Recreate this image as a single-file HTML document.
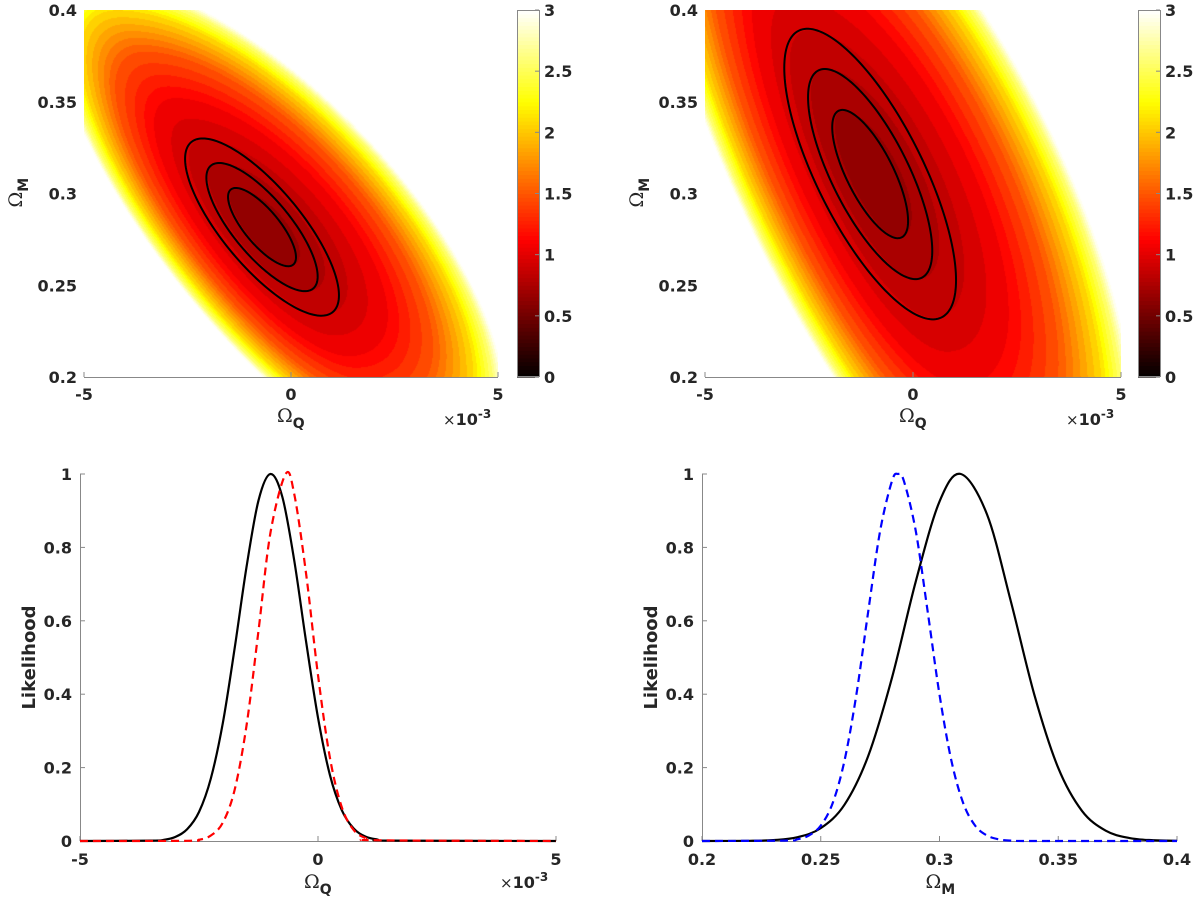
<!DOCTYPE html>
<html><head><meta charset="utf-8">
<style>
html,body{margin:0;padding:0;background:#fff;}
#wrap{position:relative;width:1200px;height:900px;overflow:hidden;background:#fff;}
canvas{position:absolute;}
svg{position:absolute;left:0;top:0;}
</style></head>
<body>
<div id="wrap">
<canvas id="mapTL"></canvas>
<canvas id="mapTR"></canvas>
<svg id="svg" width="1200" height="900" xmlns="http://www.w3.org/2000/svg"></svg>
</div>
<script>
// ---------- data ----------
const tlCenter = [-0.70, 0.2817];
const tlSigma = [0.541, 0.01406];
const tlRho = [-0.77];
const trCenter = [-1.03, 0.3106];
const trSigma = [0.601, 0.02305];
const trRho = [-0.73];
const contourChi2 = [2.30, 6.17, 11.8];
const colorD = [0, 1.5, 2.5, 3.4, 5, 6.8, 8.4, 9.2, 9.6];
const colorV = [0.62, 0.70, 0.80, 0.90, 1.10, 1.50, 2.10, 2.60, 3.00];
const tlSkew = [1.1, 0.78];
const trSkew = [1.14, 0.82];
const mapXTicks = [-5, 0, 5];
const mapYTicks = [0.2, 0.25, 0.3, 0.35, 0.4];
const mapYTickLabels = ['0.2', '0.25', '0.3', '0.35', '0.4'];
const cbTicks = [0, 0.5, 1, 1.5, 2, 2.5, 3];
const cbTickLabels = ['0', '0.5', '1', '1.5', '2', '2.5', '3'];

const blBlackX = [-5,-3.5,-3.25,-3.0,-2.75,-2.5,-2.25,-2.0,-1.75,-1.5,-1.25,-1.0,-0.75,-0.5,-0.25,0,0.25,0.5,0.75,1.0,1.25,1.5,5];
const blBlackY = [0,0.001,0.003,0.011,0.032,0.079,0.171,0.321,0.526,0.748,0.928,1.0,0.938,0.765,0.543,0.336,0.180,0.084,0.034,0.012,0.004,0.001,0];
const blRedX = [-5,-2.75,-2.5,-2.25,-2.0,-1.75,-1.5,-1.25,-1.0,-0.68,-0.5,-0.25,0,0.25,0.5,0.75,1.0,1.25,5];
const blRedY = [0,0.0005,0.0034,0.015,0.050,0.140,0.316,0.573,0.839,1.0,0.946,0.728,0.452,0.227,0.092,0.030,0.008,0.002,0];
const brBlackX = [0.2,0.22,0.23,0.24,0.25,0.26,0.27,0.28,0.29,0.30,0.309,0.32,0.33,0.34,0.35,0.36,0.37,0.38,0.39,0.40];
const brBlackY = [0,0.0005,0.0025,0.010,0.035,0.099,0.232,0.445,0.707,0.925,1.0,0.890,0.654,0.397,0.199,0.082,0.028,0.008,0.002,0.0004];
const brBlueX = [0.2,0.235,0.24,0.245,0.25,0.255,0.26,0.265,0.27,0.275,0.28,0.2825,0.285,0.29,0.295,0.30,0.305,0.31,0.315,0.32,0.325,0.33,0.34,0.4];
const brBlueY = [0,0.001,0.0044,0.015,0.042,0.103,0.219,0.399,0.626,0.845,0.981,1.0,0.981,0.845,0.626,0.399,0.219,0.103,0.042,0.015,0.0044,0.001,0,0];
const blXTicks = [-5, 0, 5];
const brXTicks = [0.2, 0.25, 0.3, 0.35, 0.4];
const brXTickLabels = ['0.2', '0.25', '0.3', '0.35', '0.4'];
const likeYTicks = [0, 0.2, 0.4, 0.6, 0.8, 1];
const likeYTickLabels = ['0', '0.2', '0.4', '0.6', '0.8', '1'];

// ---------- helpers ----------
const NS = 'http://www.w3.org/2000/svg';
const svg = document.getElementById('svg');
function mk(tag, attrs, parent) {
  const e = document.createElementNS(NS, tag);
  for (const k in attrs) e.setAttribute(k, attrs[k]);
  (parent || svg).appendChild(e);
  return e;
}
function lin(d0, d1, p0, p1) { return v => p0 + (v - d0) / (d1 - d0) * (p1 - p0); }
function inv(d0, d1, p0, p1) { return p => d0 + (p - p0) / (p1 - p0) * (d1 - d0); }
function hot(v) {
  const f = Math.max(0, Math.min(1, v / 3));
  const r = Math.min(1, f / 0.375), g = Math.max(0, Math.min(1, (f - 0.375) / 0.375)), b = Math.max(0, Math.min(1, (f - 0.75) / 0.25));
  return [Math.round(r * 255), Math.round(g * 255), Math.round(b * 255)];
}
function interp(xs, ys, x) {
  if (x <= xs[0]) return ys[0];
  for (let i = 1; i < xs.length; i++) if (x <= xs[i]) { const t = (x - xs[i-1]) / (xs[i] - xs[i-1]); return ys[i-1] + t * (ys[i] - ys[i-1]); }
  return ys[ys.length - 1];
}
const TXT = 'fill:#262626;font-family:"DejaVu Sans","Liberation Sans",sans-serif;font-weight:bold;font-size:16px;';
const OMEGA = 'fill:#262626;font-family:"DejaVu Serif","Liberation Serif",serif;font-size:19px;';
const SUB = 'font-family:DejaVu Sans,Liberation Sans,sans-serif;font-weight:bold;font-size:14px';

// ---------- maps ----------
function drawMap(id, name, L, R, T, B, center, sigma, rho, skew, cbL) {
  const W = R - L, H = B - T;
  const X = lin(-5, 5, L, R), Y = lin(0.2, 0.4, B, T);
  const Xi = inv(-5, 5, L, R), Yi = inv(0.2, 0.4, B, T);
  const cv = document.getElementById(id);
  cv.width = W; cv.height = H; cv.style.left = L + 'px'; cv.style.top = T + 'px';
  const ctx = cv.getContext('2d');
  const img = ctx.createImageData(W, H);
  const s1 = Math.sqrt(1 - rho * rho);
  for (let py = 0; py < H; py++) {
    const y = Yi(T + py + 0.5);
    for (let px = 0; px < W; px++) {
      const x = Xi(L + px + 0.5);
      const dxn = (x - center[0]) / sigma[0], dyn = (y - center[1]) / sigma[1];
      let u = (dxn - rho * dyn) / s1;
      u *= (u > 0 ? skew[1] : skew[0]);
      const d = Math.sqrt(u * u + dyn * dyn);
      let v = interp(colorD, colorV, d);
      if (d > colorD[colorD.length - 1]) v = 3.5;
      const k = (py * W + px) * 4;
      if (v >= 3) { img.data[k] = 255; img.data[k+1] = 255; img.data[k+2] = 255; }
      else {
        const q = Math.floor(v * 10) / 10 + 0.05;
        const c = hot(q);
        img.data[k] = c[0]; img.data[k+1] = c[1]; img.data[k+2] = c[2];
      }
      img.data[k+3] = 255;
    }
  }
  ctx.putImageData(img, 0, 0);

  const g = mk('g', {});
  
  
  contourChi2.forEach((c, i) => {
    const r = Math.sqrt(c);
    let dstr = '';
    for (let j = 0; j <= 180; j++) {
      const t = j / 180 * 2 * Math.PI;
      const x = center[0] + sigma[0] * r * Math.cos(t);
      const y = center[1] + sigma[1] * r * (rho * Math.cos(t) + s1 * Math.sin(t));
      dstr += (j ? 'L' : 'M') + X(x).toFixed(2) + ',' + Y(y).toFixed(2);
    }
    const p = mk('path', {d: dstr + 'Z', fill: 'none', stroke: '#000', 'stroke-width': 2}, g);
    
    
  });

  const ax = mk('g', {});
  
  
  mk('line', {x1: L, y1: B + 0.5, x2: R, y2: B + 0.5, stroke: '#888', 'stroke-width': 1}, ax);
  mapXTicks.forEach(t => {
    mk('line', {x1: X(t), y1: B, x2: X(t), y2: B - 5, stroke: '#888', 'stroke-width': 1}, ax);
    const tx = mk('text', {x: X(t), y: B + 23, 'text-anchor': 'middle', style: TXT}, ax);
    tx.textContent = String(t);
    
    
  });
  const xt = mk('text', {x: X(0) - 14, y: B + 45, style: OMEGA}, ax);
  xt.innerHTML = 'Ω<tspan dy="6" style="' + SUB + '">Q</tspan>';
  
  
  const ex = mk('text', {x: R - 55, y: B + 48, style: 'fill:#262626;font-family:"DejaVu Sans",sans-serif;font-size:15px;'}, ax);
  ex.innerHTML = '×<tspan style="font-weight:bold;font-size:16px">10</tspan><tspan dy="-7" style="font-weight:bold;font-size:12px">-3</tspan>';
  
  
  const ay = mk('g', {});
  
  
  mapYTicks.forEach((t, i) => {
    const tx = mk('text', {x: L - 7, y: Y(t) + 6, 'text-anchor': 'end', style: TXT}, ay);
    tx.textContent = mapYTickLabels[i];
    
    
  });
  const yt = mk('text', {x: 0, y: 0, transform: 'translate(' + (L - 62) + ',' + (Y(0.3) + 14) + ') rotate(-90)', style: OMEGA}, ay);
  yt.innerHTML = 'Ω<tspan dy="6" style="' + SUB + '">M</tspan>';
  
  

  const cb = mk('g', {});
  
  
  const CY = lin(0, 3, B, T);
  const n = 96;
  for (let i = 0; i < n; i++) {
    const v0 = i / n * 3, v1 = (i + 1) / n * 3;
    const c = hot((v0 + v1) / 2);
    mk('rect', {x: cbL, y: CY(v1), width: 22, height: CY(v0) - CY(v1) + 0.6, fill: 'rgb(' + c.join(',') + ')'}, cb);
  }
  mk('rect', {x: cbL + 0.5, y: T + 0.5, width: 22, height: H - 1, fill: 'none', stroke: '#888', 'stroke-width': 1}, cb);
  cbTicks.forEach((t, i) => {
    mk('line', {x1: cbL + 22, y1: CY(t), x2: cbL + 18, y2: CY(t), stroke: '#888'}, cb);
    const tx = mk('text', {x: cbL + 27, y: CY(t) + 6, style: TXT}, cb);
    tx.textContent = cbTickLabels[i];
    
    
  });
}
drawMap('mapTL', 'map-left', 84, 498, 10, 377, tlCenter, tlSigma, tlRho[0], tlSkew, 517);
drawMap('mapTR', 'map-right', 705, 1121, 10, 377, trCenter, trSigma, trRho[0], trSkew, 1138);

// ---------- likelihood plots ----------
function catmull(pts) {
  let d = 'M' + pts[0][0].toFixed(2) + ',' + pts[0][1].toFixed(2);
  for (let i = 0; i < pts.length - 1; i++) {
    const p0 = pts[Math.max(0, i - 1)], p1 = pts[i], p2 = pts[i + 1], p3 = pts[Math.min(pts.length - 1, i + 2)];
    const c1 = [p1[0] + (p2[0] - p0[0]) / 6, p1[1] + (p2[1] - p0[1]) / 6];
    const c2 = [p2[0] - (p3[0] - p1[0]) / 6, p2[1] - (p3[1] - p1[1]) / 6];
    d += 'C' + c1[0].toFixed(2) + ',' + c1[1].toFixed(2) + ' ' + c2[0].toFixed(2) + ',' + c2[1].toFixed(2) + ' ' + p2[0].toFixed(2) + ',' + p2[1].toFixed(2);
  }
  return d;
}
function drawLike(name, L, R, T, B, x0, x1, xticks, xlabels, title, series) {
  const X = lin(x0, x1, L, R), Y = lin(0, 1, B, T);
  const g = mk('g', {});
  
  
  mk('line', {x1: L, y1: B + 0.5, x2: R, y2: B + 0.5, stroke: '#888'}, g);
  mk('line', {x1: L + 0.5, y1: T, x2: L + 0.5, y2: B, stroke: '#888'}, g);
  xticks.forEach((t, i) => {
    mk('line', {x1: X(t), y1: B, x2: X(t), y2: B - 5, stroke: '#888'}, g);
    const tx = mk('text', {x: X(t), y: B + 24, 'text-anchor': 'middle', style: TXT}, g);
    tx.textContent = xlabels[i];
    
    
  });
  likeYTicks.forEach((t, i) => {
    mk('line', {x1: L, y1: Y(t), x2: L + 5, y2: Y(t), stroke: '#888'}, g);
    const tx = mk('text', {x: L - 8, y: Y(t) + 6, 'text-anchor': 'end', style: TXT}, g);
    tx.textContent = likeYTickLabels[i];
    
    
  });
  const yt = mk('text', {x: 0, y: 0, transform: 'translate(' + (L - 45) + ',' + Y(0.5) + ') rotate(-90)', 'text-anchor': 'middle', style: TXT + 'font-size:18px;'}, g);
  yt.textContent = 'Likelihood';
  
  
  const xt = mk('text', {x: (L + R) / 2 - 14, y: B + 47, style: OMEGA}, g);
  xt.innerHTML = 'Ω<tspan dy="6" style="' + SUB + '">' + title + '</tspan>';
  
  
  series.forEach(s => {
    const pts = s.xs.map((x, i) => [X(x), Y(s.ys[i])]);
    const p = mk('path', {d: catmull(pts), fill: 'none', stroke: s.color, 'stroke-width': 2.2, 'stroke-dasharray': s.dash || 'none'}, g);
    
    
  });
}
drawLike('likelihood-omega-q', 80, 556, 474, 841, -5, 5, blXTicks, ['-5', '0', '5'], 'Q', [
  {xs: blBlackX, ys: blBlackY, color: '#000', name: 'black-likelihood-curve'},
  {xs: blRedX, ys: blRedY, color: '#ff0000', dash: '8,5', name: 'red-dashed-likelihood-curve'}
]);
drawLike('likelihood-omega-m', 702, 1177, 474, 841, 0.2, 0.4, brXTicks, brXTickLabels, 'M', [
  {xs: brBlackX, ys: brBlackY, color: '#000', name: 'black-likelihood-curve'},
  {xs: brBlueX, ys: brBlueY, color: '#0000ff', dash: '8,5', name: 'blue-dashed-likelihood-curve'}
]);
(function(){
  const ex = mk('text', {x: 500, y: 888, style: 'fill:#262626;font-family:"DejaVu Sans",sans-serif;font-size:15px;'});
  ex.innerHTML = '×<tspan style="font-weight:bold;font-size:16px">10</tspan><tspan dy="-7" style="font-weight:bold;font-size:12px">-3</tspan>';
  
  
})();
</script>
</body></html>
